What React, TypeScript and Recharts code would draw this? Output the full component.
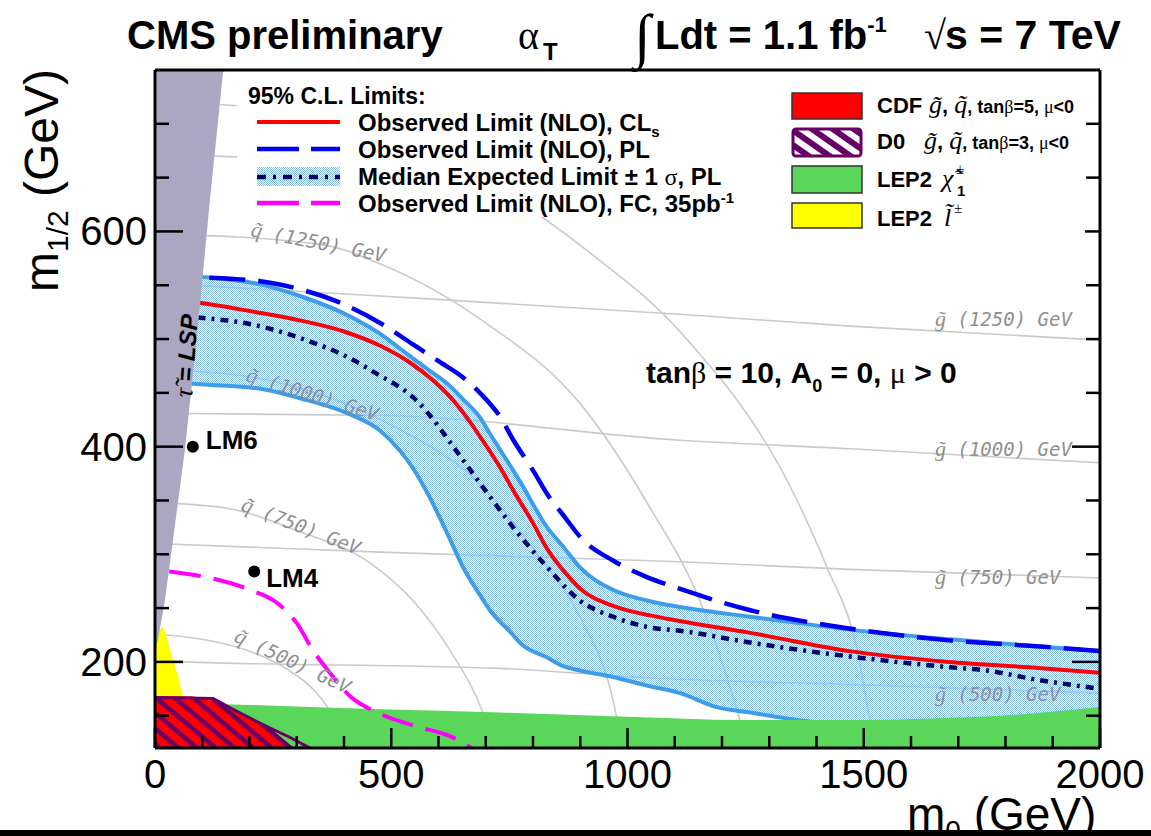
import React from "react";
import { ComposedChart, Line, Area, XAxis, YAxis, Scatter } from "recharts";

const W = 1151;
const H = 836;
const FONT = "'Liberation Sans', Arial, Helvetica, sans-serif";
const SERIF = "'Liberation Serif', 'DejaVu Serif', serif";
const MONO = "'DejaVu Sans Mono', 'Liberation Mono', monospace";

// frame of the plot, in page pixels
const PLOT = { left: 155, right: 1100, top: 70, bottom: 748 };

const M0_DOMAIN: [number, number] = [0, 2000];
const M12_DOMAIN: [number, number] = [120, 750];

const xTicks = [0, 100, 200, 300, 400, 500, 600, 700, 800, 900, 1000, 1100, 1200, 1300, 1400, 1500, 1600, 1700, 1800, 1900, 2000];
const xLabelled = [0, 500, 1000, 1500, 2000];
const yTicks = [150, 200, 250, 300, 350, 400, 450, 500, 550, 600, 650, 700];
const yLabelled = [200, 400, 600];

// observed limit (NLO), CLs
const obsClsM0 = [90, 150, 200, 300, 400, 480, 540, 590, 625, 660, 690, 730, 760, 800, 830, 870, 900, 970, 1050, 1110, 1260, 1470, 1680, 1850, 2000];
const obsClsM12 = [534, 530, 526, 518, 507, 493, 478, 461, 446, 427, 408, 381, 358, 329, 305, 282, 268, 252, 243, 238, 227, 210, 200, 195, 190];

// observed limit (NLO), PL
const obsPlM0 = [115, 160, 220, 300, 385, 480, 546, 605, 650, 690, 730, 760, 800, 830, 870, 900, 970, 1040, 1110, 1260, 1470, 1680, 1850, 2000];
const obsPlM12 = [557, 556, 554, 547, 535, 514, 495, 478, 465, 449, 428, 405, 378, 356, 333, 316, 294, 279, 268, 248, 231, 220, 215, 210];

// median expected limit, PL
const expM0 = [90, 200, 307, 413, 476, 519, 546, 603, 618, 688, 758, 830, 899, 969, 1048, 1111, 1259, 1471, 1683, 1760, 1860, 2000];
const expM12 = [520, 514, 501, 482, 466, 455, 446, 417, 408, 366, 325, 288, 257, 242, 232, 229, 218, 205, 195, 192, 184, 175];

// +/- 1 sigma band
const bandM0 = [40, 95, 220, 307, 413, 476, 519, 546, 580, 620, 652, 688, 709, 758, 772, 830, 864, 899, 969, 1041, 1111, 1189, 1259, 1329, 1471, 1683, 1850, 2000];
const bandHi = [560, 558, 551, 540, 521, 505, 491, 482, 471, 458, 444, 427, 412, 378, 368, 325, 307, 288, 267, 257, 251, 246, 242, 238, 230, 221, 215, 210];
const bandLo = [460, 458, 454, 445, 430, 415, 396, 380, 354, 318, 288, 262, 248, 225, 218, 204, 196, 192, 186, 178, 171, 158, 153, 148, 140, 130, 123, 118];

// observed limit FC, 35 pb-1
const fcM0 = [30, 116, 201, 258, 300, 334, 370, 413, 470, 554, 624, 670];
const fcM12 = [284, 278, 267, 255, 236, 211, 190, 168, 153, 140, 131, 120];

// excluded regions
const lspM0 = [0, 6, 21, 38, 63, 91, 116, 144, 150];
const lspEdge = [213, 220, 257, 313, 396, 512, 628, 748, 750];
const lepSleptonM0 = [0, 10, 17, 25, 38, 50, 59, 62];
const lepSleptonTop = [226, 230, 232, 222, 202, 185, 169, 165];
const cdfM0 = [0, 78, 120, 159, 222, 292, 296];
const cdfTop = [168, 168, 165, 158, 143, 121, 120];
const d0M0 = [0, 123, 165, 200, 237, 285, 328];
const d0Top = [167, 166, 156, 148, 140, 130, 120];
const lepCharginoM0 = [0, 116, 476, 730, 1000, 1247, 1500, 1683, 1788, 2000];
const lepCharginoTop = [162, 161, 156, 153, 149, 146, 146, 148, 150, 158];

// iso-mass contours
const gl500M0 = [0, 59, 730, 1048, 1471, 2000];
const gl500M12 = [201, 200, 194, 185, 179, 171];
const gl750M0 = [0, 476, 1111, 1471, 2000];
const gl750M12 = [310, 302, 293, 286, 278];
const gl1000M0 = [0, 483, 1111, 1471, 2000];
const gl1000M12 = [431, 429, 406, 398, 385];
const gl1250M0 = [0, 476, 1111, 1471, 2000];
const gl1250M12 = [552, 540, 523, 512, 499];
const gl1500M0 = [0, 250];
const gl1500M12 = [672, 668];
const sq500M0 = [0, 100, 200, 280, 340, 375, 400];
const sq500M12 = [226, 221, 210, 193, 172, 150, 120];
const sq750M0 = [0, 150, 300, 455, 550, 624, 694, 720];
const sq750M12 = [348, 343, 322, 292, 255, 211, 153, 120];
const sq1000M0 = [0, 200, 340, 500, 688, 815, 899, 969, 990];
const sq1000M12 = [472, 465, 450, 420, 365, 297, 242, 165, 120];
const sq1250M0 = [0, 350, 476, 700, 900, 1048, 1153, 1238, 1255];
const sq1250M12 = [598, 588, 570, 515, 440, 343, 257, 146, 120];
const sq1500M0 = [0, 300, 600, 921, 1111, 1359, 1422, 1486, 1513, 1525];
const sq1500M12 = [720, 712, 670, 580, 507, 350, 288, 211, 146, 120];

// benchmark points
const lmNames = ["LM6", "LM4"];
const lmM0 = [80, 210];
const lmM12 = [400, 284];

const pts = (xs: number[], ys: number[]) => xs.map((x, i) => ({ x, y: ys[i] }));
const span = (xs: number[], lo: number[], hi: number[]) => xs.map((x, i) => ({ x, r: [lo[i], hi[i]] }));
const floor = (xs: number[]) => xs.map(() => M12_DOMAIN[0]);
const ceil = (xs: number[]) => xs.map(() => M12_DOMAIN[1]);

const contours = [
  pts(gl500M0, gl500M12), pts(gl750M0, gl750M12), pts(gl1000M0, gl1000M12),
  pts(gl1250M0, gl1250M12), pts(gl1500M0, gl1500M12),
  pts(sq500M0, sq500M12), pts(sq750M0, sq750M12), pts(sq1000M0, sq1000M12),
  pts(sq1250M0, sq1250M12), pts(sq1500M0, sq1500M12),
];
const lmData = lmNames.map((name, i) => ({ name, x: lmM0[i], y: lmM12[i] }));

const C = {
  red: "#ff0000",
  blue: "#0000f0",
  navy: "#000066",
  band: "#3d9de8",
  magenta: "#ff00ff",
  green: "#5ad65a",
  yellow: "#ffff00",
  purple: "#660066",
  lsp: "#aba7c3",
  contour: "#cacaca",
  label: "#8f8f8f",
};

const lineBase = {
  xAxisId: "x",
  yAxisId: "y",
  dataKey: "y",
  dot: false,
  activeDot: false,
  isAnimationActive: false,
  type: "monotone" as const,
};
const areaBase = {
  xAxisId: "x",
  yAxisId: "y",
  dataKey: "r",
  stroke: "none",
  fillOpacity: 1,
  dot: false,
  activeDot: false,
  isAnimationActive: false,
  type: "monotone" as const,
};
const frameStyle = { stroke: "#000", strokeWidth: 3 };
const TICK_W = 2.5;

const lmLabelOffset: Record<string, [number, number]> = { LM6: [13, 2], LM4: [12, 15] };

function LmMarker(p: any) {
  const [dx, dy] = lmLabelOffset[p.payload.name] ?? [12, 8];
  return (
    <g>
      <circle cx={p.cx} cy={p.cy} r={6} fill="#000" />
      <text x={p.cx + dx} y={p.cy + dy} fontFamily={FONT} fontWeight="bold" fontSize={26} fill="#000">
        {p.payload.name}
      </text>
    </g>
  );
}

// ticks point into the frame, ROOT style
function BottomTick(p: any) {
  const major = xLabelled.includes(p.payload.value);
  const len = major ? 20 : 12;
  return (
    <g>
      <line x1={p.x} x2={p.x} y1={PLOT.bottom} y2={PLOT.bottom - len} stroke="#000" strokeWidth={TICK_W} />
      {major && (
        <text x={p.x} y={788} textAnchor="middle" fontFamily={FONT} fontSize={40} fill="#000">
          {p.payload.value}
        </text>
      )}
    </g>
  );
}

function TopTick(p: any) {
  const len = xLabelled.includes(p.payload.value) ? 20 : 12;
  return <line x1={p.x} x2={p.x} y1={PLOT.top} y2={PLOT.top + len} stroke="#000" strokeWidth={TICK_W} />;
}

function LeftTick(p: any) {
  const major = yLabelled.includes(p.payload.value);
  const len = major ? 28 : 14;
  return (
    <g>
      <line x1={PLOT.left} x2={PLOT.left + len} y1={p.y} y2={p.y} stroke="#000" strokeWidth={TICK_W} />
      {major && (
        <text x={147} y={p.y + 14} textAnchor="end" fontFamily={FONT} fontSize={40} fill="#000">
          {p.payload.value}
        </text>
      )}
    </g>
  );
}

function RightTick(p: any) {
  const len = yLabelled.includes(p.payload.value) ? 28 : 14;
  return <line x1={PLOT.right} x2={PLOT.right - len} y1={p.y} y2={p.y} stroke="#000" strokeWidth={TICK_W} />;
}

function PatternDefs() {
  return (
    <svg width={0} height={0} style={{ position: "absolute", left: 0, top: 0 }}>
      <defs>
        <pattern id="bandFill" width={2} height={2} patternUnits="userSpaceOnUse">
          <rect x={0} y={0} width={1} height={1} fill="#86bbf0" />
          <rect x={1} y={1} width={1} height={1} fill="#86bbf0" />
        </pattern>
        <pattern id="d0Hatch" width={12} height={12} patternUnits="userSpaceOnUse" patternTransform="rotate(40)">
          <rect x={0} y={0} width={12} height={4.5} fill={C.purple} />
        </pattern>
        <pattern id="d0HatchLeg" width={12} height={12} patternUnits="userSpaceOnUse" patternTransform="rotate(35)">
          <rect x={0} y={0} width={12} height={12} fill={C.purple} />
          <rect x={0} y={3} width={12} height={6} fill="#fff" />
        </pattern>
      </defs>
    </svg>
  );
}

function Annotations() {
  const glLabel = (y: number, mass: string) => (
    <text x={935} y={y} fontFamily={MONO} fontStyle="italic" fontSize={19} fill={C.label}>
      <tspan fontFamily={SERIF} fontSize={22}>g̃</tspan> ({mass}) GeV
    </text>
  );
  const sqLabel = (x: number, y: number, angle: number, mass: string) => (
    <text
      transform={`translate(${x},${y}) rotate(${angle})`}
      fontFamily={MONO}
      fontStyle="italic"
      fontSize={19}
      fill={C.label}
    >
      <tspan fontFamily={SERIF} fontSize={22}>q̃</tspan> ({mass}) GeV
    </text>
  );
  const legText = (y: number) => ({ x: 358, y, fontFamily: FONT, fontWeight: "bold" as const, fontSize: 24 });
  const sym = { fontFamily: SERIF, fontStyle: "italic" as const, fontWeight: "normal" as const, fontSize: 26 };
  const small = { fontSize: 18 };
  const greek = { fontFamily: SERIF, fontWeight: "normal" as const, fontSize: 18 };
  return (
    <svg width={W} height={H} style={{ position: "absolute", left: 0, top: 0, pointerEvents: "none" }}>
      {/* title */}
      <text x={127} y={49} fontFamily={FONT} fontWeight="bold" fontSize={40}>CMS preliminary</text>
      <text x={518} y={49} fontFamily={SERIF} fontSize={40}>α</text>
      <text x={543} y={60} fontFamily={FONT} fontWeight="bold" fontSize={24}>T</text>
      <text x={634} y={56} fontFamily={SERIF} fontSize={60}>∫</text>
      <text x={655} y={49} fontFamily={FONT} fontWeight="bold" fontSize={40}>
        Ldt = 1.1 fb<tspan dy={-17} fontSize={22}>-1</tspan>
      </text>
      <text x={924} y={49} fontFamily={SERIF} fontSize={40}>√</text>
      <text x={945} y={49} fontFamily={FONT} fontWeight="bold" fontSize={41}>s = 7 TeV</text>

      {/* axis titles */}
      <text transform="translate(58,292) rotate(-90)" fontFamily={FONT} fontSize={48}>
        m<tspan dy={10} fontSize={30}>1/2</tspan><tspan dy={-10}> (GeV)</tspan>
      </text>
      <text x={907} y={830} fontFamily={FONT} fontSize={46}>
        m<tspan dy={10} fontSize={28}>0</tspan><tspan dy={-10}> (GeV)</tspan>
      </text>
      <rect x={0} y={830} width={W} height={6} fill="#000" />

      {/* LSP region label */}
      <text transform="translate(192,398) rotate(-86)" fontFamily={FONT} fontWeight="bold" fontStyle="italic" fontSize={24}>
        <tspan fontFamily={SERIF} fontWeight="normal" fontSize={26}>τ̃</tspan> = LSP
      </text>

      {/* mass labels */}
      {glLabel(326, "1250")}
      {glLabel(456, "1000")}
      {glLabel(584, "750")}
      {glLabel(701, "500")}
      {sqLabel(250, 236, 11, "1250")}
      {sqLabel(245, 381, 17, "1000")}
      {sqLabel(240, 510, 21, "750")}
      {sqLabel(233, 641, 25, "500")}

      <text x={646} y={383} fontFamily={FONT} fontWeight="bold" fontSize={30}>
        tan<tspan fontFamily={SERIF} fontWeight="normal">β</tspan> = 10, A<tspan dy={9} fontSize={18}>0</tspan>
        <tspan dy={-9}> = 0, </tspan><tspan fontFamily={SERIF} fontWeight="normal">μ</tspan> &gt; 0
      </text>

      {/* left legend */}
      <rect x={237} y={84} width={468} height={133} fill="#fff" />
      <text x={248} y={104} fontFamily={FONT} fontWeight="bold" fontSize={23}>95% C.L. Limits:</text>
      <line x1={257} x2={340} y1={122} y2={122} stroke={C.red} strokeWidth={4} />
      <text {...legText(131)}>Observed Limit (NLO), CL<tspan dy={6} fontSize={15}>s</tspan></text>
      <line x1={257} x2={340} y1={149} y2={149} stroke={C.blue} strokeWidth={4.5} strokeDasharray="42 12" />
      <text {...legText(158)}>Observed Limit (NLO), PL</text>
      <rect x={257} y={167} width={83} height={19} fill="url(#bandFill)" />
      <line x1={257} x2={340} y1={177} y2={177} stroke={C.navy} strokeWidth={4.5} strokeDasharray="9 7 3 7" />
      <text {...legText(185)}>Median Expected Limit ± 1 <tspan fontFamily={SERIF} fontWeight="normal">σ</tspan>, PL</text>
      <line x1={257} x2={340} y1={203} y2={203} stroke={C.magenta} strokeWidth={4.5} strokeDasharray="42 12" />
      <text {...legText(212)}>Observed Limit (NLO), FC, 35pb<tspan dy={-9} fontSize={15}>-1</tspan></text>

      {/* right legend */}
      <rect x={785} y={91} width={300} height={145} fill="#fff" />
      <rect x={792} y={93} width={70} height={26} fill={C.red} stroke="#333" strokeWidth={1.5} />
      <rect x={793} y={129} width={68} height={27} rx={3} fill="url(#d0HatchLeg)" stroke={C.purple} strokeWidth={3} />
      <rect x={792} y={166} width={70} height={27} fill={C.green} stroke="#333" strokeWidth={1.5} />
      <rect x={792} y={203} width={70} height={25} fill={C.yellow} stroke="#333" strokeWidth={1.5} />
      <text x={877} y={113} fontFamily={FONT} fontWeight="bold" fontSize={22}>
        CDF<tspan x={929} {...sym}>g̃</tspan><tspan>, </tspan><tspan {...sym}>q̃</tspan>
        <tspan {...small}>, tan</tspan><tspan {...greek}>β</tspan><tspan {...small}>=5, </tspan>
        <tspan {...greek}>μ</tspan><tspan {...small}>&lt;0</tspan>
      </text>
      <text x={877} y={149} fontFamily={FONT} fontWeight="bold" fontSize={22}>
        D0<tspan x={924} {...sym}>g̃</tspan><tspan>, </tspan><tspan {...sym}>q̃</tspan>
        <tspan {...small}>, tan</tspan><tspan {...greek}>β</tspan><tspan {...small}>=3, </tspan>
        <tspan {...greek}>μ</tspan><tspan {...small}>&lt;0</tspan>
      </text>
      <text x={877} y={187} fontFamily={FONT} fontWeight="bold" fontSize={22}>
        LEP2<tspan x={942} {...sym}>χ̃</tspan>
        <tspan x={956} dy={-13} fontSize={15} fontWeight="normal" fontFamily={SERIF}>±</tspan>
        <tspan x={957} dy={22} fontSize={15}>1</tspan>
      </text>
      <text x={877} y={226} fontFamily={FONT} fontWeight="bold" fontSize={22}>
        LEP2<tspan x={944} {...sym}>l̃</tspan>
        <tspan x={954} dy={-13} fontSize={15} fontWeight="normal" fontFamily={SERIF}>±</tspan>
      </text>
    </svg>
  );
}

export default function App() {
  return (
    <div style={{ position: "absolute", left: 0, top: 0, width: W, height: H, background: "#fff" }}>
      <PatternDefs />
      <ComposedChart width={W} height={H} margin={{ top: PLOT.top - 1, right: W - PLOT.right - 1, bottom: H - PLOT.bottom - 1, left: PLOT.left - 1 }}>
        {contours.map((d, i) => (
          <Line key={`c${i}`} {...lineBase} data={d} stroke={C.contour} strokeWidth={1.6} zIndex={1} />
        ))}
        <Area {...areaBase} data={span(bandM0, bandLo, bandHi)} fill="url(#bandFill)" zIndex={2} />
        <Line {...lineBase} data={pts(bandM0, bandHi)} stroke={C.band} strokeWidth={4} zIndex={3} />
        <Line {...lineBase} data={pts(bandM0, bandLo)} stroke={C.band} strokeWidth={4} zIndex={3} />
        <Line {...lineBase} data={pts(expM0, expM12)} stroke={C.navy} strokeWidth={4.5} strokeDasharray="8 6 3 6" zIndex={4} />
        <Line {...lineBase} data={pts(obsClsM0, obsClsM12)} stroke={C.red} strokeWidth={4} zIndex={5} />
        <Line {...lineBase} data={pts(obsPlM0, obsPlM12)} stroke={C.blue} strokeWidth={4.5} strokeDasharray="36 13" zIndex={6} />
        <Area {...areaBase} data={span(lepCharginoM0, floor(lepCharginoM0), lepCharginoTop)} fill={C.green} zIndex={7} />
        <Area {...areaBase} data={span(lepSleptonM0, floor(lepSleptonM0), lepSleptonTop)} fill={C.yellow} zIndex={8} />
        <Area {...areaBase} type="linear" data={span(cdfM0, floor(cdfM0), cdfTop)} fill={C.red} zIndex={9} />
        <Area {...areaBase} type="linear" data={span(d0M0, floor(d0M0), d0Top)} fill="url(#d0Hatch)" stroke={C.purple} strokeWidth={3} zIndex={10} />
        <Line {...lineBase} data={pts(fcM0, fcM12)} stroke={C.magenta} strokeWidth={4} strokeDasharray="32 13" zIndex={11} />
        <Area {...areaBase} type="linear" data={span(lspM0, lspEdge, ceil(lspM0))} fill={C.lsp} zIndex={12} />
        <Scatter xAxisId="x" yAxisId="y" data={lmData} dataKey="y" shape={<LmMarker />} isAnimationActive={false} zIndex={13} />

        <XAxis xAxisId="x" dataKey="x" type="number" domain={M0_DOMAIN} allowDataOverflow ticks={xTicks} interval={0}
          height={1} tickLine={false} tick={<BottomTick />} axisLine={frameStyle} />
        <XAxis xAxisId="xt" orientation="top" type="number" domain={M0_DOMAIN} allowDataOverflow ticks={xTicks} interval={0}
          height={1} tickLine={false} tick={<TopTick />} axisLine={frameStyle} />
        <YAxis yAxisId="y" dataKey="y" type="number" domain={M12_DOMAIN} allowDataOverflow ticks={yTicks} interval={0}
          width={1} tickLine={false} tick={<LeftTick />} axisLine={frameStyle} />
        <YAxis yAxisId="yr" orientation="right" type="number" domain={M12_DOMAIN} allowDataOverflow ticks={yTicks} interval={0}
          width={1} tickLine={false} tick={<RightTick />} axisLine={frameStyle} />
      </ComposedChart>
      <Annotations />
    </div>
  );
}
